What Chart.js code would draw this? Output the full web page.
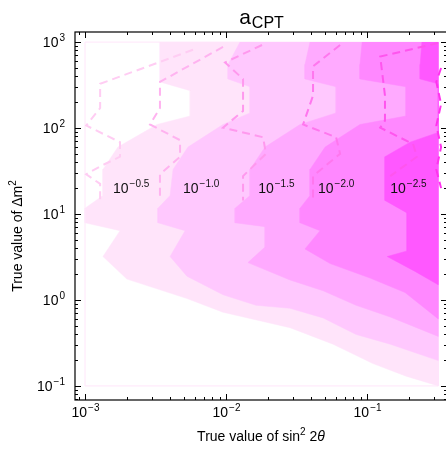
<!DOCTYPE html>
<html>
<head>
<meta charset="utf-8">
<script src="https://cdn.jsdelivr.net/npm/chart.js@4.4.1/dist/chart.umd.min.js"></script>
<style>
  html, body { margin: 0; padding: 0; background: #fff; overflow: hidden; }
  #wrap { width: 448px; height: 453px; }
</style>
</head>
<body>
<div id="wrap"><canvas id="chart" width="448" height="453"></canvas></div>
<script>
// filled contour edges as [sin^2 2θ, Δm^2], from the top edge down to the right edge
const edge05 = [[3.40e-3,1000],[3.40e-3,344],[5.56e-3,272],[5.56e-3,138],[3.24e-3,110],[1.71e-3,60],[1.34e-3,33],[1.34e-3,16.4],[1.0e-3,11.7],[1.0e-3,7.9],[1.77e-3,6.4],[1.34e-3,3.2],[1.98e-3,1.75],[5.28e-3,1.04],[9.5e-3,0.72],[0.0284,0.476],[0.0574,0.306],[0.110,0.182],[0.189,0.130],[0.32,0.1]];
const edge10 = [[0.01256,1000],[0.01033,549],[0.01033,372],[0.0148,302],[0.0148,150],[9.52e-3,110],[5.37e-3,60],[4.21e-3,33],[4.01e-3,16.4],[3.29e-3,11.7],[3.29e-3,7.9],[5.12e-3,6.4],[4.01e-3,3.2],[5.28e-3,1.89],[9.52e-3,1.15],[0.0163,0.867],[0.0284,0.80],[0.0488,0.618],[0.0836,0.397],[0.146,0.306],[0.32,0.197]];
const edge15 = [[0.0394,1000],[0.0363,549],[0.0363,372],[0.0603,302],[0.0603,150],[0.0335,110],[0.0189,60],[0.0148,33],[0.0148,16.4],[0.0116,11.7],[0.0116,7.9],[0.0189,7.13],[0.0189,4.13],[0.0143,2.72],[0.0284,1.71],[0.0488,1.28],[0.0836,0.867],[0.146,0.634],[0.32,0.377]];
const edge20 = [[0.0923,1000],[0.0891,549],[0.0891,372],[0.189,302],[0.189,138],[0.0891,110],[0.0504,60],[0.0394,33],[0.0394,16.4],[0.0335,11.7],[0.0335,7.9],[0.0464,6.4],[0.0363,3.92],[0.0547,2.65],[0.105,1.80],[0.186,1.22],[0.32,0.602]];
const edge25 = [[0.245,1000],[0.238,549],[0.238,372],[0.32,327],[0.32,88.9],[0.202,68.5],[0.134,46.4],[0.134,14.4],[0.192,10.3],[0.192,3.72],[0.139,3.2],[0.219,2.15],[0.32,1.50]];

// dashed contours, top end first
const dash05 = [[5.83e-3,813],[1.28e-3,327],[1.28e-3,171],[1.02e-3,107],[1.77e-3,68.5],[1.77e-3,46.4],[1.28e-3,35.8],[1.02e-3,29.0],[1.28e-3,22.4],[1.28e-3,14.4]];
const dash10 = [[9.52e-3,879],[3.40e-3,344],[3.40e-3,171],[2.89e-3,110],[4.72e-3,72.3],[4.72e-3,46.4],[3.40e-3,29.0],[3.40e-3,14.4]];
const dash15 = [[0.0180,925],[9.84e-3,580],[0.0132,372],[0.0132,158],[9.52e-3,101],[0.0183,78.2],[0.0192,50.2],[0.0132,27.6],[0.0132,14.4]];
const dash20 = [[0.0644,925],[0.0414,522],[0.0414,239],[0.0352,110],[0.0603,78.2],[0.0644,50.2],[0.0414,27.6],[0.0414,14.4]];
const dash25 = [[0.319,974],[0.124,678],[0.134,239],[0.134,122],[0.124,101],[0.212,65.2],[0.226,46.4],[0.146,27.6]];
const dash30 = [[0.335,500],[0.31,344],[0.335,190],[0.31,107],[0.335,60],[0.31,33],[0.335,20]];

const fillColors = ['#ffe4fa', '#ffc8fe', '#ffaaff', '#ff88ff', '#ff58ff'];
const dashColors = ['#ffcdf3', '#ffb3f0', '#ff99ee', '#ff77ee', '#ff55ee', '#ff33ee'];

// contour labels: exponent of 10, position
const labelExps = ['\u22120.5', '\u22121.0', '\u22121.5', '\u22122.0', '\u22122.5'];
const labelX = [1.58e-3, 4.95e-3, 0.0169, 0.0449, 0.146];
const labelY = [20, 20, 20, 20, 20];

const xTickExps = [-3, -2, -1];
const yTickExps = [-1, 0, 1, 2, 3];

const boxX = [1e-3, 0.32];
const boxY = [0.1, 1000];

const FONT = '"Liberation Sans", Arial, Helvetica, sans-serif';

function pts(list) {
  return list.map(([x, y]) => ({ x, y }));
}

const datasets = [];
[edge05, edge10, edge15, edge20, edge25].forEach((e, i) => {
  datasets.push({
    data: pts(e.concat([[boxX[1], boxY[1]]])),
    showLine: true,
    fill: 'shape',
    backgroundColor: fillColors[i],
    borderColor: fillColors[i],
    borderWidth: 0.5,
    pointRadius: 0,
    order: 20 - i
  });
});
[dash05, dash10, dash15, dash20, dash25, dash30].forEach((d, i) => {
  datasets.push({
    data: pts(d),
    showLine: true,
    fill: false,
    borderColor: dashColors[i],
    borderWidth: 2,
    borderDash: [8, 5],
    pointRadius: 0,
    order: 8 - i
  });
});
// thin outline of the computed area
datasets.push({
  data: pts([[boxX[0], boxY[0]], [boxX[0], boxY[1]], [boxX[1], boxY[1]], [boxX[1], boxY[0]], [boxX[0], boxY[0]]]),
  showLine: true,
  fill: false,
  borderColor: '#ffe6fa',
  borderWidth: 1,
  pointRadius: 0,
  order: 30
});

function pow10(ctx, exp, x, y, size, align) {
  ctx.font = size + 'px ' + FONT;
  const wb = ctx.measureText('10').width;
  ctx.font = Math.round(size * 0.72) + 'px ' + FONT;
  const we = ctx.measureText(exp).width;
  let left = x;
  if (align === 'center') left = x - (wb + we) / 2;
  if (align === 'right') left = x - wb - we;
  ctx.textAlign = 'left';
  ctx.textBaseline = 'alphabetic';
  ctx.font = size + 'px ' + FONT;
  ctx.fillText('10', left, y);
  ctx.font = Math.round(size * 0.72) + 'px ' + FONT;
  ctx.fillText(exp, left + wb + 1, y - size * 0.45);
}

const expText = (n) => (n < 0 ? '\u2212' + (-n) : String(n));

const framePlugin = {
  id: 'frame',
  afterDraw(chart) {
    const { ctx, chartArea: a, scales: { x, y } } = chart;
    ctx.save();
    ctx.strokeStyle = '#000';
    ctx.fillStyle = '#000';
    ctx.lineWidth = 1.2;
    ctx.strokeRect(a.left, a.top, a.right - a.left, a.bottom - a.top);

    ctx.lineWidth = 1;
    ctx.beginPath();
    for (let d = -4; d <= 0; d++) {
      for (let m = 1; m <= 9; m++) {
        const v = m * Math.pow(10, d);
        if (v < x.min || v > x.max) continue;
        const p = Math.round(x.getPixelForValue(v)) + 0.5;
        const len = m === 1 ? 6 : 3;
        ctx.moveTo(p, a.bottom); ctx.lineTo(p, a.bottom - len);
        ctx.moveTo(p, a.top); ctx.lineTo(p, a.top + len);
      }
    }
    for (let d = -2; d <= 3; d++) {
      for (let m = 1; m <= 9; m++) {
        const v = m * Math.pow(10, d);
        if (v < y.min || v > y.max) continue;
        const p = Math.round(y.getPixelForValue(v)) + 0.5;
        const len = m === 1 ? 6 : 3;
        ctx.moveTo(a.left, p); ctx.lineTo(a.left + len, p);
        ctx.moveTo(a.right, p); ctx.lineTo(a.right - len, p);
      }
    }
    ctx.stroke();

    // tick labels
    xTickExps.forEach((n) => {
      pow10(ctx, expText(n), x.getPixelForValue(Math.pow(10, n)), a.bottom + 17, 14, 'center');
    });
    yTickExps.forEach((n) => {
      pow10(ctx, expText(n), a.left - 11, y.getPixelForValue(Math.pow(10, n)) + 5, 14, 'right');
    });

    // contour labels
    ctx.fillStyle = '#111';
    labelExps.forEach((e, i) => {
      pow10(ctx, e, x.getPixelForValue(labelX[i]), y.getPixelForValue(labelY[i]) + 5, 14, 'left');
    });

    // title
    ctx.fillStyle = '#000';
    ctx.font = '21px ' + FONT;
    const wa = ctx.measureText('a').width;
    ctx.font = '16px ' + FONT;
    const wc = ctx.measureText('CPT').width;
    const tx = (a.left + a.right) / 2 - (wa + wc) / 2;
    ctx.font = '21px ' + FONT;
    ctx.fillText('a', tx, 24);
    ctx.font = '16px ' + FONT;
    ctx.fillText('CPT', tx + wa + 1, 28);

    // x title
    const parts = [['True value of sin', '14px ' + FONT, 0], ['2', '10px ' + FONT, -6], [' 2', '14px ' + FONT, 0], ['\u03b8', 'italic 14px ' + FONT, 0]];
    let total = 0;
    parts.forEach((p) => { ctx.font = p[1]; total += ctx.measureText(p[0]).width; });
    let cx = (a.left + a.right) / 2 - total / 2;
    parts.forEach((p) => { ctx.font = p[1]; ctx.fillText(p[0], cx, 441 + p[2]); cx += ctx.measureText(p[0]).width; });

    // y title
    ctx.translate(22, 236);
    ctx.rotate(-Math.PI / 2);
    const yparts = [['True value of \u0394m', '14px ' + FONT, 0], ['2', '10px ' + FONT, -6]];
    total = 0;
    yparts.forEach((p) => { ctx.font = p[1]; total += ctx.measureText(p[0]).width; });
    cx = -total / 2;
    yparts.forEach((p) => { ctx.font = p[1]; ctx.fillText(p[0], cx, p[2]); cx += ctx.measureText(p[0]).width; });
    ctx.restore();
  }
};

new Chart(document.getElementById('chart').getContext('2d'), {
  type: 'scatter',
  data: { datasets },
  options: {
    responsive: false,
    animation: false,
    layout: { padding: { left: 75, top: 32, right: 1, bottom: 53 } },
    plugins: { legend: { display: false }, tooltip: { enabled: false } },
    scales: {
      x: { type: 'logarithmic', min: 8.49e-4, max: 0.369, display: false },
      y: { type: 'logarithmic', min: 0.0686, max: 1310, display: false }
    },
    elements: { line: { tension: 0 } }
  },
  plugins: [framePlugin]
});
</script>
</body>
</html>
